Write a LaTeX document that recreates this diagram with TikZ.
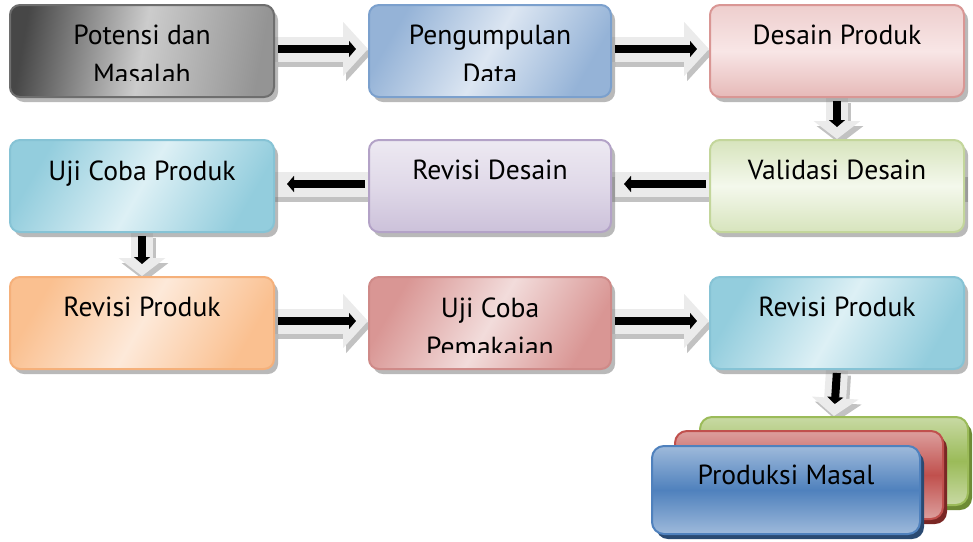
\documentclass[tikz,border=0pt]{standalone}
\usepackage{fontspec}
\setmainfont{PT Sans}
\usepackage{tikz}
\usetikzlibrary{arrows.meta, positioning, shadows, backgrounds}
\usepackage{xcolor}
\definecolor{greyedge}{HTML}{6E6E6E}
\definecolor{bluepale}{HTML}{DCE6F2}
\definecolor{bluemid}{HTML}{95B3D7}
\definecolor{blueedge}{HTML}{7BA0CD}
\definecolor{pinkpale}{HTML}{F8E6E6}
\definecolor{pinkmid}{HTML}{E6B9B8}
\definecolor{pinkedge}{HTML}{D99694}
\definecolor{cyanpale}{HTML}{DDF0F5}
\definecolor{cyanmid}{HTML}{93CDDD}
\definecolor{cyanedge}{HTML}{86C3D5}
\definecolor{lilacpale}{HTML}{EDE9F2}
\definecolor{lilacmid}{HTML}{CCC1DA}
\definecolor{lilacedge}{HTML}{B3A2C7}
\definecolor{limepale}{HTML}{F4F8EC}
\definecolor{limemid}{HTML}{D7E4BD}
\definecolor{limeedge}{HTML}{C3D69B}
\definecolor{peachpale}{HTML}{FDE9D9}
\definecolor{peachmid}{HTML}{FAC090}
\definecolor{peachedge}{HTML}{F5B07A}
\definecolor{rosepale}{HTML}{F2DCDB}
\definecolor{rosemid}{HTML}{D99694}
\definecolor{roseedge}{HTML}{CF8A88}
\definecolor{massgreen}{HTML}{9BBB59}
\definecolor{massgreendk}{HTML}{6E8B35}
\definecolor{massred}{HTML}{C0504D}
\definecolor{massreddk}{HTML}{7A2725}
\definecolor{massblue}{HTML}{4F81BD}
\definecolor{massbluedk}{HTML}{2A4A72}

% text of a step, clipped to the box as in the original
\newcommand{\boxtext}[2]{%
  \begin{scope}
    \clip ([yshift=9pt]#1.south west) rectangle (#1.north east);
    \node[steptext, below=10.5pt of #1.north] {#2};
  \end{scope}}

\begin{document}
\begin{tikzpicture}[
        x=0.5pt, y=-0.5pt,
        every node/.style={font=\fontsize{13.8}{19.5}\selectfont},
        stepbox/.style={draw=#1, line width=1pt, rounded corners=5pt, minimum height=46pt, inner sep=0pt,
            drop shadow={shadow xshift=2pt, shadow yshift=-2.5pt, fill=black!55, opacity=.5}},
        paint/.style n args={3}{left color=#1, right color=#1, middle color=#2, shading angle=#3},
        colA/.style={minimum width=132pt},
        colB/.style={minimum width=121pt},
        colC/.style={minimum width=127pt},
        steptext/.style={align=center, inner sep=0pt, anchor=north},
        layer/.style 2 args={draw=#1, line width=1pt, rounded corners=6pt, minimum width=134pt, minimum height=44pt,
            top color=#1!55!white, bottom color=#1!55!white, middle color=#1,
            drop shadow={shadow xshift=2pt, shadow yshift=-2.5pt, fill=#2, opacity=1}},
        flowarrow/.style={line width=12.5pt, draw=black!8, -{Triangle[length=12.5pt, width=26.5pt]}},
        flowdown/.style={line width=11pt, draw=black!8, -{Triangle[length=9pt, width=23pt]}},
        flowshade/.style={draw=black!24, transform canvas={xshift=1.5pt, yshift=-2.5pt}},
        blackarrow/.style={line width=4pt, black, -{Triangle[length=3.5pt, width=8pt]}, shorten <=1.5pt, shorten >=6pt}
    ]
        \useasboundingbox (0,0) rectangle (973,541);

        % row 1
        \node[stepbox=greyedge, colA, left color=black!72, right color=black!42, middle color=black!20, shading angle=80] (potensi) at (142,51) {};
        \node[stepbox=blueedge, colB, paint={bluemid}{bluepale}{60}] (data) at (490,51) {};
        \node[stepbox=pinkedge, colC, top color=pinkmid!70!white, bottom color=pinkmid, middle color=pinkpale] (desain) at (837,51) {};
        % row 2
        \node[stepbox=cyanedge, colA, paint={cyanmid}{cyanpale}{60}] (ujiproduk) at (142,186) {};
        \node[stepbox=lilacedge, colB, top color=lilacpale, bottom color=lilacmid, middle color=lilacpale!60!lilacmid] (revdesain) at (490,186) {};
        \node[stepbox=limeedge, colC, top color=limemid, bottom color=limemid, middle color=limepale] (validasi) at (837,186) {};
        % row 3
        \node[stepbox=peachedge, colA, paint={peachmid}{peachpale}{60}] (revproduk) at (142,323) {};
        \node[stepbox=roseedge, colB, paint={rosemid}{rosepale}{60}] (ujipakai) at (490,323) {};
        \node[stepbox=cyanedge, colC, paint={cyanmid}{cyanpale}{60}] (revakhir) at (837,323) {};
        % stacked result
        \node[layer={massgreen}{massgreendk}] (massA) at (834,461) {};
        \node[layer={massred}{massreddk}] (massB) at (809,475) {};
        \node[layer={massblue}{massbluedk}] (massC) at (786,490) {};

        \boxtext{potensi}{Potensi dan\\Masalah}
        \boxtext{data}{Pengumpulan\\Data}
        \boxtext{desain}{Desain Produk}
        \boxtext{ujiproduk}{Uji Coba Produk}
        \boxtext{revdesain}{Revisi Desain}
        \boxtext{validasi}{Validasi Desain}
        \boxtext{revproduk}{Revisi Produk}
        \boxtext{ujipakai}{Uji Coba\\Pemakaian}
        \boxtext{revakhir}{Revisi Produk}
        \node[steptext, below=10pt of massC.north] {Produksi Masal};

        % grey block arrows behind
        \begin{scope}[on background layer]
            \foreach \src/\dst in {potensi/data, data/desain, validasi/revdesain, revdesain/ujiproduk, revproduk/ujipakai, ujipakai/revakhir} {
                \draw[flowarrow, flowshade] ([yshift=1pt]\src.east) -- ([yshift=1pt]\dst.west);
                \draw[flowarrow] ([yshift=1pt]\src.east) -- ([yshift=1pt]\dst.west);
            }
            \foreach \src/\dst in {desain/validasi, ujiproduk/revproduk, revakhir/massA} {
                \draw[flowdown, flowshade] (\src.south) -- (\dst.north);
                \draw[flowdown] (\src.south) -- (\dst.north);
            }
        \end{scope}

        % black arrows on top
        \draw[blackarrow] ([yshift=1pt]potensi.east) -- ([yshift=1pt]data.west);
        \draw[blackarrow] ([yshift=1pt]data.east) -- ([yshift=1pt]desain.west);
        \draw[blackarrow] (desain.south) -- (validasi.north);
        \draw[blackarrow] ([yshift=1pt]validasi.west) -- ([yshift=1pt]revdesain.east);
        \draw[blackarrow] ([yshift=1pt]revdesain.west) -- ([yshift=1pt]ujiproduk.east);
        \draw[blackarrow] (ujiproduk.south) -- (revproduk.north);
        \draw[blackarrow] ([yshift=1pt]revproduk.east) -- ([yshift=1pt]ujipakai.west);
        \draw[blackarrow] ([yshift=1pt]ujipakai.east) -- ([yshift=1pt]revakhir.west);
        \draw[blackarrow] (revakhir.south) -- (massA.north);
    \end{tikzpicture}
\end{document}
